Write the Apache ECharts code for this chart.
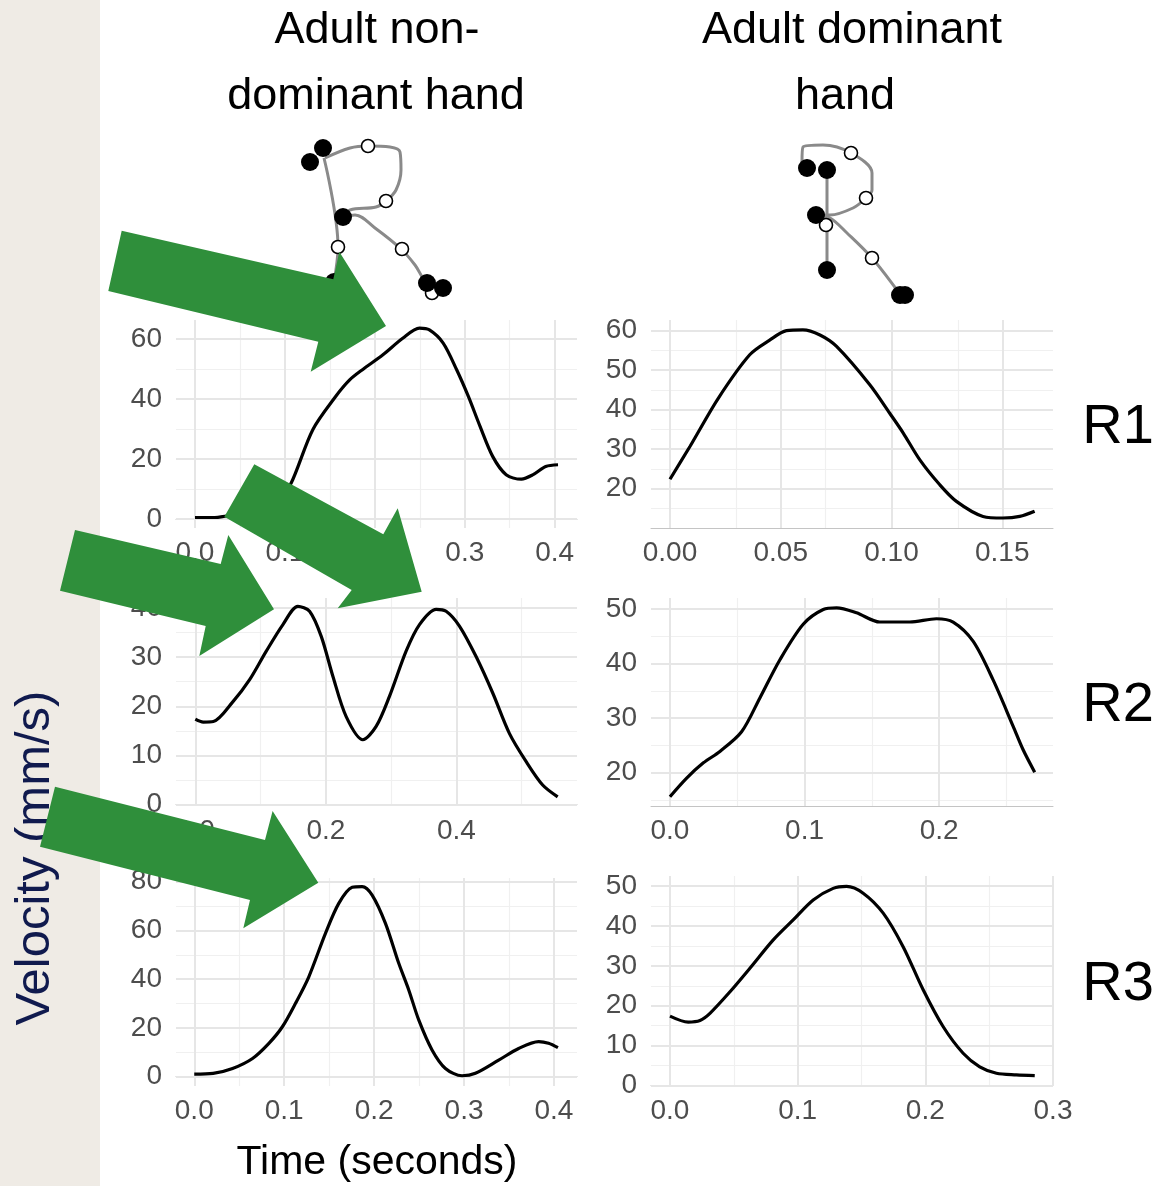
<!DOCTYPE html>
<html>
<head>
<meta charset="utf-8">
<script src="https://cdn.jsdelivr.net/npm/echarts@6/dist/echarts.min.js"></script>
<style>
  html, body { margin: 0; padding: 0; background: #fff; }
  #chart { width: 1160px; height: 1186px; }
</style>
</head>
<body>
<div id="chart"></div>
<script>
// --- velocity profiles (time in s, velocity in mm/s) ---
const r1NondomT = [0, 0.022, 0.035, 0.05, 0.07, 0.085, 0.097, 0.107, 0.131, 0.156, 0.172, 0.187, 0.209, 0.231, 0.2496, 0.2607, 0.276, 0.291, 0.304, 0.317, 0.331, 0.346, 0.363, 0.376, 0.39, 0.4037];
const r1NondomV = [0.5, 0.5, 1, 1.5, 3, 5.5, 8.5, 12, 29.8, 40.7, 46.4, 50, 54.8, 60.3, 63.7, 63.1, 58.7, 49.8, 40.9, 30.9, 20.9, 14.8, 13.3, 14.8, 17.5, 18.1];

const r1DomT = [0, 0.009, 0.0218, 0.036, 0.045, 0.0526, 0.06, 0.0677, 0.0752, 0.0902, 0.0992, 0.1053, 0.1128, 0.1218, 0.1293, 0.1413, 0.1503, 0.1579, 0.1646];
const r1DomV = [22.4, 30.7, 42.9, 53.9, 57.6, 60, 60.2, 58.9, 56, 46.3, 39.1, 34.1, 27.3, 21, 16.8, 13, 12.6, 13, 14.3];

const r2NondomT = [0, 0.0122, 0.0276, 0.058, 0.0832, 0.1087, 0.1342, 0.1571, 0.175, 0.1929, 0.2107, 0.2311, 0.2566, 0.277, 0.2974, 0.3229, 0.3434, 0.3689, 0.3842, 0.4046, 0.4301, 0.4556, 0.4811, 0.5066, 0.5321, 0.5551];
const r2NondomV = [17.4, 16.8, 16.9, 21, 25.4, 31.2, 36.6, 40.3, 39.3, 34.2, 26.1, 17.9, 13.2, 15.9, 22, 31.2, 36.6, 39.7, 39.3, 36.3, 30.1, 22.7, 14.5, 8.8, 4, 1.6];

const r2DomT = [0, 0.0124, 0.0248, 0.0371, 0.0532, 0.0668, 0.0817, 0.099, 0.1139, 0.1238, 0.1386, 0.1559, 0.1782, 0.198, 0.2104, 0.2252, 0.2401, 0.255, 0.2624, 0.271];
const r2DomV = [15.6, 19, 21.8, 23.9, 27.5, 33.7, 40.7, 47.2, 49.9, 50.2, 49.3, 47.6, 47.6, 48.2, 47.6, 44.1, 37, 28.5, 24.2, 20.1];

const r3NondomT = [0, 0.021, 0.0426, 0.0648, 0.083, 0.098, 0.1126, 0.1274, 0.1459, 0.1607, 0.1756, 0.1867, 0.1978, 0.2126, 0.2274, 0.2385, 0.2496, 0.2644, 0.2793, 0.2978, 0.3126, 0.3385, 0.3607, 0.383, 0.394, 0.4044];
const r3NondomV = [1.1, 1.4, 3.4, 7.5, 13.7, 20.5, 30.1, 41, 58.8, 71.1, 77.7, 78, 74.5, 62.9, 46.5, 35.6, 23.3, 11, 3.4, 0.4, 1.4, 6.8, 11.6, 14.4, 13.7, 11.9];

const r3DomT = [0, 0.0143, 0.0235, 0.0313, 0.047, 0.0626, 0.0809, 0.0965, 0.1122, 0.1278, 0.1383, 0.1513, 0.167, 0.1826, 0.1983, 0.2139, 0.2296, 0.2426, 0.2557, 0.2713, 0.2857];
const r3DomV = [17.4, 15.9, 16.3, 18.1, 23.5, 29.4, 36.5, 41.5, 46.5, 49.4, 49.9, 48.2, 43.2, 34.8, 24, 14.8, 8.1, 4.7, 3.1, 2.7, 2.5];

// --- tick labels ---
const r1NondomXTicks = [0, 0.1, 0.2, 0.3, 0.4];
const r1NondomYTicks = [0, 20, 40, 60];
const r1DomXTicks = [0, 0.05, 0.1, 0.15];
const r1DomYTicks = [20, 30, 40, 50, 60];
const r2NondomXTicks = [0, 0.2, 0.4];
const r2NondomYTicks = [0, 10, 20, 30, 40];
const r2DomXTicks = [0, 0.1, 0.2];
const r2DomYTicks = [20, 30, 40, 50];
const r3NondomXTicks = [0, 0.1, 0.2, 0.3, 0.4];
const r3NondomYTicks = [0, 20, 40, 60, 80];
const r3DomXTicks = [0, 0.1, 0.2, 0.3];
const r3DomYTicks = [0, 10, 20, 30, 40, 50];

// --- handwritten "R" pen traces (pen units, y downwards) ---
const ndLoop = [[35, 28], [60, 18], [78, 16], [100, 17], [110, 22], [111, 40], [106, 60], [96, 71], [86, 77], [60, 80], [53, 87]];
const ndLeg = [[53, 87], [65, 85], [85, 98], [111, 119], [125, 135], [137, 153], [153, 158]];
const ndStem = [[34, 28], [48, 117], [44, 152]];
const ndPause = [[33, 18], [20, 32], [53, 87], [137, 153], [153, 158], [44, 152]];
const ndSample = [[78, 16], [96, 71], [48, 117], [112, 119], [142, 163]];

const dLoop = [[22, 32], [23, 17], [43, 15], [71, 23], [92, 43], [92, 60], [86, 68], [73, 78], [50, 85], [36, 85]];
const dLeg = [[36, 85], [50, 88], [67, 103], [92, 128], [117, 160], [120, 165]];
const dStem = [[47, 40], [47, 140]];
const dPause = [[27, 38], [47, 40], [36, 85], [47, 140], [120, 165], [125, 165]];
const dSample = [[71, 23], [86, 68], [46, 95], [92, 128]];

const FONT = '"Liberation Sans", Arial, sans-serif';
const MAJOR = { color: '#e6e6e6', width: 2, type: 'solid' };
const MINOR = { color: '#f0f0f0', width: 1.2, type: 'solid' };

const panels = [
  { grid: { left: 176, top: 320, width: 401, height: 208 }, x: [-0.0211, 0.4248], y: [-3.0, 66.4], t: r1NondomT, v: r1NondomV, xt: r1NondomXTicks, yt: r1NondomYTicks, dec: 1 },
  { grid: { left: 651, top: 320, width: 402, height: 208 }, x: [-0.00857, 0.1729], y: [10.07, 62.7], t: r1DomT, v: r1DomV, xt: r1DomXTicks, yt: r1DomYTicks, dec: 2 },
  { grid: { left: 176, top: 598, width: 401, height: 208 }, x: [-0.0296, 0.5847], y: [-0.26, 42.0], t: r2NondomT, v: r2NondomV, xt: r2NondomXTicks, yt: r2NondomYTicks, dec: 1 },
  { grid: { left: 651, top: 598, width: 402, height: 208 }, x: [-0.0141, 0.2846], y: [13.9, 52.0], t: r2DomT, v: r2DomV, xt: r2DomXTicks, yt: r2DomYTicks, dec: 1 },
  { grid: { left: 176, top: 878, width: 401, height: 208 }, x: [-0.0203, 0.4256], y: [-3.8, 81.5], t: r3NondomT, v: r3NondomV, xt: r3NondomXTicks, yt: r3NondomYTicks, dec: 1 },
  { grid: { left: 651, top: 876, width: 402, height: 210 }, x: [-0.01487, 0.3], y: [-0.1, 52.5], t: r3DomT, v: r3DomV, xt: r3DomXTicks, yt: r3DomYTicks, dec: 1 }
];

// midpoints between major ticks that fall inside the axis range
function minorOf(ticks, range) {
  const step = ticks[1] - ticks[0];
  const out = [];
  for (let i = -1; i < ticks.length; i++) {
    const m = ticks[0] + (i + 0.5) * step;
    if (m > range[0] && m < range[1]) out.push(+m.toFixed(6));
  }
  return out;
}

const grids = [], xAxes = [], yAxes = [], series = [];

panels.forEach((p, i) => {
  grids.push(p.grid);
  xAxes.push({
    type: 'value', gridIndex: i, min: p.x[0], max: p.x[1],
    axisLine: { show: true, lineStyle: { color: '#c4c4c4', width: 1 } },
    axisTick: { show: false },
    splitLine: { show: false },
    axisLabel: {
      customValues: p.xt, margin: 11, color: '#4d4d4d', fontSize: 28, fontFamily: FONT,
      formatter: v => v.toFixed(p.dec)
    }
  });
  yAxes.push({
    type: 'value', gridIndex: i, min: p.y[0], max: p.y[1],
    axisLine: { show: false }, axisTick: { show: false },
    splitLine: { show: false },
    axisLabel: {
      customValues: p.yt, margin: 14, color: '#4d4d4d', fontSize: 28, fontFamily: FONT,
      formatter: v => String(Math.round(v))
    }
  });
  const lines = []
    .concat(minorOf(p.xt, p.x).map(v => ({ xAxis: v, lineStyle: MINOR })))
    .concat(minorOf(p.yt, p.y).map(v => ({ yAxis: v, lineStyle: MINOR })))
    .concat(p.xt.map(v => ({ xAxis: v, lineStyle: MAJOR })))
    .concat(p.yt.map(v => ({ yAxis: v, lineStyle: MAJOR })));
  series.push({
    type: 'line', xAxisIndex: i, yAxisIndex: i, z: 3,
    data: p.t.map((t, k) => [t, p.v[k]]),
    showSymbol: false, smooth: 0.3,
    lineStyle: { color: '#000', width: 3.2 },
    markLine: { silent: true, symbol: 'none', z: 1, label: { show: false }, emphasis: { disabled: true }, data: lines }
  });
});

// trajectory drawings
const traj = [
  { grid: { left: 290, top: 130, width: 180, height: 180 }, loop: ndLoop, leg: ndLeg, stem: ndStem, pause: ndPause, sample: ndSample },
  { grid: { left: 780, top: 130, width: 180, height: 180 }, loop: dLoop, leg: dLeg, stem: dStem, pause: dPause, sample: dSample }
];
traj.forEach((d, j) => {
  const gi = panels.length + j;
  grids.push(d.grid);
  xAxes.push({ type: 'value', gridIndex: gi, min: 0, max: 180, show: false });
  yAxes.push({ type: 'value', gridIndex: gi, min: 0, max: 180, inverse: true, show: false });
  [d.loop, d.leg, d.stem].forEach(path => {
    series.push({
      type: 'line', xAxisIndex: gi, yAxisIndex: gi, data: path, showSymbol: false, smooth: 0.35, z: 3,
      lineStyle: { color: '#8a8a8a', width: 3 }
    });
  });
  series.push({
    type: 'scatter', xAxisIndex: gi, yAxisIndex: gi, data: d.sample, symbolSize: 13, z: 4,
    itemStyle: { color: '#fff', borderColor: '#000', borderWidth: 1.6, opacity: 1 }
  });
  series.push({
    type: 'scatter', xAxisIndex: gi, yAxisIndex: gi, data: d.pause, symbolSize: 18, z: 5,
    itemStyle: { color: '#000', opacity: 1 }
  });
});

const arrowShapes = [
  [[121.7, 230.7], [333.3, 279.3], [339.3, 251.7], [386, 326], [310.7, 371.7], [318.3, 341.7], [108.3, 291]],
  [[254.3, 464.3], [383.3, 534.3], [397.7, 508.3], [421.7, 591.7], [337.7, 608.3], [351.7, 590], [224.3, 516.7]],
  [[75, 530], [220.7, 564], [228.3, 535], [274, 609.3], [199.3, 656], [205.7, 626], [60, 590.7]],
  [[55, 786.7], [265, 840], [272.6, 811], [318.3, 882.7], [243.3, 928.3], [250, 900], [40, 846.7]]
];

const txt = (text, x, y, size, extra) => ({
  type: 'text', x, y, z: 50,
  style: Object.assign({ text, font: size + 'px ' + FONT, fill: '#000', align: 'center', verticalAlign: 'middle' }, extra || {})
});

const graphic = [
  { type: 'rect', z: -1, shape: { x: 0, y: 0, width: 100, height: 1186 }, style: { fill: '#efebe5' } },
  txt('Adult non-', 377, 31, 45),
  txt('dominant hand', 376, 97, 45),
  txt('Adult dominant', 852, 31, 45),
  txt('hand', 845, 97, 45),
  txt('R1', 1118, 428, 56),
  txt('R2', 1118, 706, 56),
  txt('R3', 1118, 985, 56),
  txt('Time (seconds)', 377, 1163, 41),
  { type: 'text', x: 35, y: 858, rotation: Math.PI / 2, z: 50,
    style: { text: 'Velocity (mm/s)', font: '49px ' + FONT, fill: '#101a4e', align: 'center', verticalAlign: 'middle' } }
].concat(arrowShapes.map(pts => ({
  type: 'polygon', z: 100, shape: { points: pts }, style: { fill: '#2f8f3b' }
})));

const chart = echarts.init(document.getElementById('chart'));
chart.setOption({
  animation: false,
  backgroundColor: '#fff',
  grid: grids,
  xAxis: xAxes,
  yAxis: yAxes,
  series: series,
  graphic: graphic
});
window.addEventListener('resize', () => chart.resize());
</script>
</body>
</html>
